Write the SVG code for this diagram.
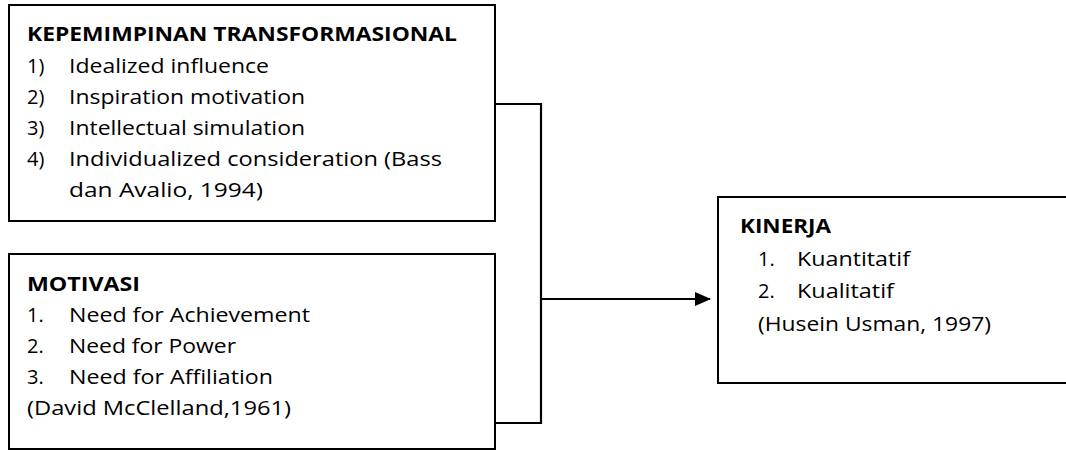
<svg xmlns="http://www.w3.org/2000/svg" width="1066" height="450" viewBox="0 0 1066 450">
<style>
.box{fill:#fff;stroke:#000;stroke-width:2}
.t{font-family:"Open Sans","Liberation Sans",sans-serif;font-size:20px;fill:#000}
.b{font-weight:bold}
.c{fill:none;stroke:#000;stroke-width:2.2}
</style>
<defs>
<marker id="ah" markerWidth="16" markerHeight="14" refX="15" refY="7" orient="auto" markerUnits="userSpaceOnUse">
<path d="M0,0 L16,7 L0,14 Z" fill="#000"/>
</marker>
</defs>
<g id="kepemimpinan">
<rect class="box" x="9" y="5" width="486" height="216"/>
<text class="t b" x="27" y="41" textLength="430" lengthAdjust="spacingAndGlyphs">KEPEMIMPINAN TRANSFORMASIONAL</text>
<text class="t" x="27" y="73">1)</text><text class="t" x="69" y="73" textLength="200" lengthAdjust="spacingAndGlyphs">Idealized influence</text>
<text class="t" x="27" y="104">2)</text><text class="t" x="69" y="104" textLength="236" lengthAdjust="spacingAndGlyphs">Inspiration motivation</text>
<text class="t" x="27" y="135">3)</text><text class="t" x="69" y="135" textLength="236" lengthAdjust="spacingAndGlyphs">Intellectual simulation</text>
<text class="t" x="27" y="166">4)</text><text class="t" x="69" y="166" textLength="373" lengthAdjust="spacingAndGlyphs">Individualized consideration (Bass</text>
<text class="t" x="69" y="197" textLength="194" lengthAdjust="spacingAndGlyphs">dan Avalio, 1994)</text>
</g>
<g id="motivasi">
<rect class="box" x="9" y="254" width="486" height="195"/>
<text class="t b" x="27" y="291" textLength="113" lengthAdjust="spacingAndGlyphs">MOTIVASI</text>
<text class="t" x="27" y="322">1.</text><text class="t" x="69" y="322" textLength="241" lengthAdjust="spacingAndGlyphs">Need for Achievement</text>
<text class="t" x="27" y="353">2.</text><text class="t" x="69" y="353" textLength="167" lengthAdjust="spacingAndGlyphs">Need for Power</text>
<text class="t" x="27" y="384">3.</text><text class="t" x="69" y="384" textLength="204" lengthAdjust="spacingAndGlyphs">Need for Affiliation</text>
<text class="t" x="27" y="415" textLength="264" lengthAdjust="spacingAndGlyphs">(David McClelland,1961)</text>
</g>
<g id="kinerja">
<rect class="box" x="718" y="197" width="360" height="186"/>
<text class="t b" x="740" y="233" textLength="91" lengthAdjust="spacingAndGlyphs">KINERJA</text>
<text class="t" x="758" y="266">1.</text><text class="t" x="797" y="266" textLength="113" lengthAdjust="spacingAndGlyphs">Kuantitatif</text>
<text class="t" x="758" y="298">2.</text><text class="t" x="797" y="298" textLength="97" lengthAdjust="spacingAndGlyphs">Kualitatif</text>
<text class="t" x="758" y="331" textLength="233" lengthAdjust="spacingAndGlyphs">(Husein Usman, 1997)</text>
</g>
<g id="connectors">
<polyline class="c" points="495,104 541,104 541,423 495,423"/>
<line class="c" x1="541" y1="299" x2="710" y2="299" marker-end="url(#ah)"/>
</g>
</svg>
